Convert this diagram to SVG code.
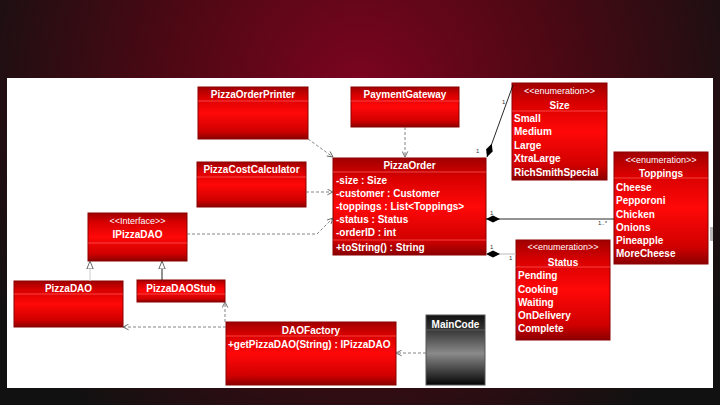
<svg xmlns="http://www.w3.org/2000/svg" width="720" height="405" viewBox="0 0 720 405">
<defs>
<radialGradient id="bg" cx="360" cy="90" r="420" gradientUnits="userSpaceOnUse" gradientTransform="translate(0,0)">
<stop offset="0" stop-color="#7c0420"/>
<stop offset="0.45" stop-color="#4e0814"/>
<stop offset="1" stop-color="#111111"/>
</radialGradient>
<linearGradient id="red" x1="0" y1="0" x2="0" y2="1">
<stop offset="0" stop-color="#a00000"/>
<stop offset="0.2" stop-color="#d80000"/>
<stop offset="0.5" stop-color="#ff0808"/>
<stop offset="0.85" stop-color="#d00000"/>
<stop offset="1" stop-color="#8a0000"/>
</linearGradient>
<linearGradient id="grey" x1="0" y1="0" x2="0" y2="1">
<stop offset="0" stop-color="#111"/>
<stop offset="0.2" stop-color="#333"/>
<stop offset="0.55" stop-color="#8a8a8a"/>
<stop offset="1" stop-color="#050505"/>
</linearGradient>
<marker id="open" viewBox="0 0 10 10" refX="9" refY="5" markerWidth="7" markerHeight="7" orient="auto" markerUnits="userSpaceOnUse">
<path d="M1,1 L9,5 L1,9" fill="none" stroke="#555" stroke-width="1.2"/>
</marker>
<marker id="tri" viewBox="0 0 10 10" refX="10" refY="5" markerWidth="8" markerHeight="8" orient="auto" markerUnits="userSpaceOnUse">
<path d="M0,1 L10,5 L0,9 Z" fill="#fff" stroke="#444" stroke-width="1"/>
</marker>
<marker id="dia" viewBox="0 0 14 8" refX="0" refY="4" markerWidth="14" markerHeight="8" orient="auto" markerUnits="userSpaceOnUse">
<path d="M0,4 L7,0.5 L14,4 L7,7.5 Z" fill="#000"/>
</marker>
</defs>
<style>
.box{fill:url(#red);stroke:#8b0000;stroke-width:1}
.sep{stroke:#ff5050;stroke-width:0.8}
.t{font-family:"Liberation Sans",Arial,sans-serif;font-size:10px;font-weight:bold;fill:#fff}
.c{text-anchor:middle}
.st{font-family:"Liberation Sans",Arial,sans-serif;font-size:9px;fill:#fff;text-anchor:middle}
.dep{fill:none;stroke:#666;stroke-width:0.8;stroke-dasharray:3,2}
.lbl{font-family:"Liberation Sans",Arial,sans-serif;font-size:6px;fill:#333}
</style>
<rect x="0" y="0" width="720" height="405" fill="url(#bg)"/>
<rect x="7" y="78" width="706" height="310" fill="#ffffff"/>
<rect x="710" y="227" width="3" height="14" fill="#bbbbbb"/>

<g id="PizzaOrderPrinter">
<rect class="box" x="198" y="87" width="110" height="52"/>
<line class="sep" x1="198" y1="101" x2="308" y2="101"/>
<text class="t c" x="253" y="97.5">PizzaOrderPrinter</text>
</g>
<g id="PaymentGateway">
<rect class="box" x="351" y="87" width="108" height="40"/>
<line class="sep" x1="351" y1="101" x2="459" y2="101"/>
<text class="t c" x="405" y="97.5">PaymentGateway</text>
</g>
<g id="PizzaCostCalculator">
<rect class="box" x="197" y="162" width="109" height="45"/>
<line class="sep" x1="197" y1="177" x2="306" y2="177"/>
<text class="t c" x="251.5" y="173">PizzaCostCalculator</text>
</g>
<g id="PizzaOrder">
<rect class="box" x="333" y="158" width="153" height="97"/>
<line class="sep" x1="333" y1="172" x2="486" y2="172"/>
<line class="sep" x1="333" y1="240" x2="486" y2="240"/>
<text class="t c" x="409.5" y="168.5">PizzaOrder</text>
<text class="t" x="336" y="184">-size : Size</text>
<text class="t" x="336" y="197">-customer : Customer</text>
<text class="t" x="336" y="210">-toppings : List&lt;Toppings&gt;</text>
<text class="t" x="336" y="223">-status : Status</text>
<text class="t" x="336" y="236">-orderID : int</text>
<text class="t" x="336" y="251">+toString() : String</text>
</g>
<g id="Size">
<rect class="box" x="512" y="83" width="95" height="97"/>
<line class="sep" x1="512" y1="111" x2="607" y2="111"/>
<text class="st" x="559.5" y="94">&lt;&lt;enumeration&gt;&gt;</text>
<text class="t c" x="559.5" y="108.5">Size</text>
<text class="t" x="514" y="122">Small</text>
<text class="t" x="514" y="135">Medium</text>
<text class="t" x="514" y="149">Large</text>
<text class="t" x="514" y="162">XtraLarge</text>
<text class="t" x="514" y="176">RichSmithSpecial</text>
</g>
<g id="Toppings">
<rect class="box" x="614" y="152" width="94" height="112"/>
<line class="sep" x1="614" y1="178" x2="708" y2="178"/>
<text class="st" x="661" y="163">&lt;&lt;enumeration&gt;&gt;</text>
<text class="t c" x="661" y="177">Toppings</text>
<text class="t" x="616" y="191">Cheese</text>
<text class="t" x="616" y="204">Pepporoni</text>
<text class="t" x="616" y="218">Chicken</text>
<text class="t" x="616" y="231">Onions</text>
<text class="t" x="616" y="244">Pineapple</text>
<text class="t" x="616" y="257">MoreCheese</text>
</g>
<g id="Status">
<rect class="box" x="516" y="240" width="94" height="100"/>
<line class="sep" x1="516" y1="267" x2="610" y2="267"/>
<text class="st" x="563" y="250">&lt;&lt;enumeration&gt;&gt;</text>
<text class="t c" x="563" y="265.5">Status</text>
<text class="t" x="518" y="279">Pending</text>
<text class="t" x="518" y="293">Cooking</text>
<text class="t" x="518" y="306">Waiting</text>
<text class="t" x="518" y="319">OnDelivery</text>
<text class="t" x="518" y="332">Complete</text>
</g>
<g id="IPizzaDAO">
<rect class="box" x="88" y="213" width="99" height="48"/>
<line class="sep" x1="88" y1="243" x2="187" y2="243"/>
<text class="st" x="137.5" y="224">&lt;&lt;Interface&gt;&gt;</text>
<text class="t c" x="137.5" y="238">IPizzaDAO</text>
</g>
<g id="PizzaDAO">
<rect class="box" x="14" y="281" width="109" height="46"/>
<line class="sep" x1="14" y1="294" x2="123" y2="294"/>
<text class="t c" x="68.5" y="291.5">PizzaDAO</text>
</g>
<g id="PizzaDAOStub">
<rect class="box" x="137" y="280" width="88" height="22"/>
<line class="sep" x1="137" y1="294" x2="225" y2="294"/>
<text class="t c" x="181" y="292">PizzaDAOStub</text>
</g>
<g id="DAOFactory">
<rect class="box" x="226" y="322" width="170" height="63"/>
<line class="sep" x1="226" y1="336" x2="396" y2="336"/>
<text class="t c" x="311" y="333.5">DAOFactory</text>
<text class="t" x="228" y="348">+getPizzaDAO(String) : IPizzaDAO</text>
</g>
<g id="MainCode">
<rect x="426" y="315" width="59" height="70" fill="url(#grey)" stroke="#555" stroke-width="1"/>
<line x1="426" y1="330" x2="485" y2="330" stroke="#666" stroke-width="0.8"/>
<text class="t c" x="455.5" y="327.5">MainCode</text>
</g>

<g id="connectors">
<path class="dep" d="M308,139 L333,157" marker-end="url(#open)"/>
<path class="dep" d="M405,127 L405,157" marker-end="url(#open)"/>
<path class="dep" d="M306,192 L333,192" marker-end="url(#open)"/>
<path class="dep" d="M187,234 L317,234 L333,218" marker-end="url(#open)"/>
<path d="M487,157 L513,85" fill="none" stroke="#111" stroke-width="0.9" marker-start="url(#dia)"/>
<path d="M486,219 L614,219" fill="none" stroke="#111" stroke-width="0.9" marker-start="url(#dia)"/>
<path d="M486,254 L516,254" fill="none" stroke="#bbb" stroke-width="1" marker-start="url(#dia)"/>
<path d="M90,281 L90,261" fill="none" stroke="#ccc" stroke-width="1" marker-end="url(#tri)"/>
<path d="M162,280 L162,261" fill="none" stroke="#222" stroke-width="1" marker-end="url(#tri)"/>
<path class="dep" d="M225,322 L225,302" marker-end="url(#open)"/>
<path class="dep" d="M226,327 L123,327" marker-end="url(#open)"/>
<path class="dep" d="M426,353 L396,353" marker-end="url(#open)"/>
<text class="lbl" x="502" y="104">1</text>
<text class="lbl" x="476" y="153">1</text>
<text class="lbl" x="490" y="215">1</text>
<text class="lbl" x="598" y="225">1..*</text>
<text class="lbl" x="490" y="249">1</text>
<text class="lbl" x="509" y="260">1</text>
</g>
</svg>
